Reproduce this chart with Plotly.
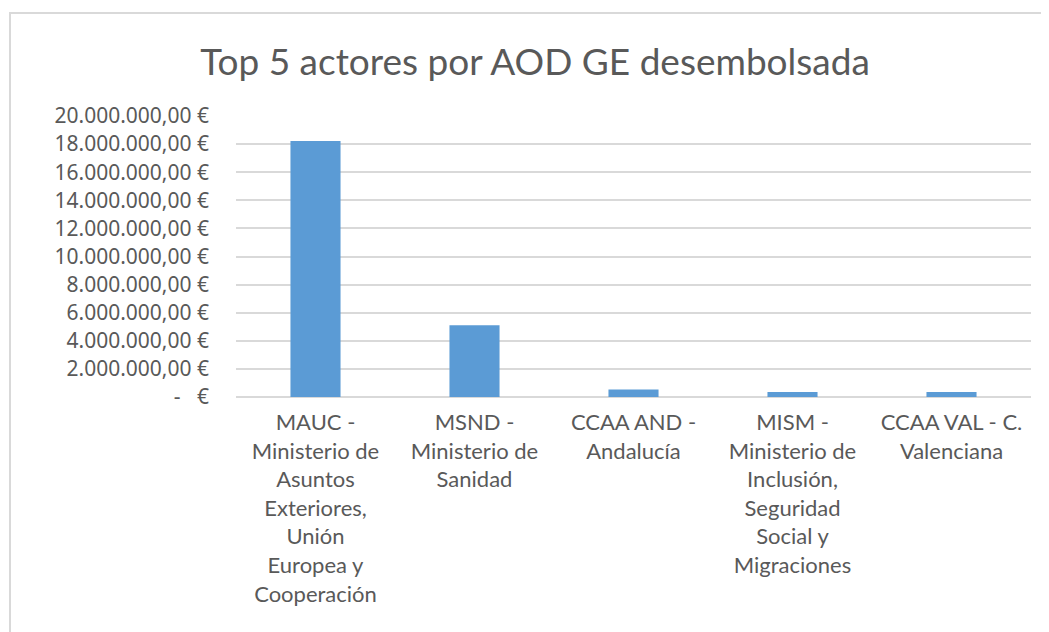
import plotly.graph_objects as go

# Top 5 actores por AOD GE desembolsada (EUR)
categorias = [
    "MAUC -<br>Ministerio de<br>Asuntos<br>Exteriores,<br>Unión<br>Europea y<br>Cooperación",
    "MSND -<br>Ministerio de<br>Sanidad",
    "CCAA AND -<br>Andalucía",
    "MISM -<br>Ministerio de<br>Inclusión,<br>Seguridad<br>Social y<br>Migraciones",
    "CCAA VAL - C.<br>Valenciana",
]
aod_desembolsada = [18220000, 5100000, 530000, 360000, 350000]
tick_vals = [0, 2e6, 4e6, 6e6, 8e6, 10e6, 12e6, 14e6, 16e6, 18e6, 20e6]


def euro(v):
    if v == 0:
        return "-   €"
    s = f"{v:,.2f}".replace(",", "X").replace(".", ",").replace("X", ".")
    return s + " €"


tick_text = [euro(v) for v in tick_vals]

fig = go.Figure(go.Bar(
    x=categorias,
    y=aod_desembolsada,
    marker=dict(color="#5B9BD5", line=dict(width=0)),
))

# page has an 8px body margin, so the figure is shifted by that amount
W, H = 1049, 632
L, T = 228, 108
pw, ph = 795, 281
R, B = W - L - pw, H - T - ph

fig.update_layout(
    width=W, height=H,
    margin=dict(l=L, r=R, t=T, b=B),
    paper_bgcolor="white",
    plot_bgcolor="white",
    bargap=0.685,
    showlegend=False,
    title=dict(
        text="Top 5 actores por AOD GE desembolsada",
        x=(535 - 8) / W, xanchor="center", y=1 - (62 - 8) / H, yanchor="middle",
        font=dict(family="Lato, sans-serif", size=37, color="#595959"),
    ),
    font=dict(family="Noto Sans, sans-serif", color="#595959"),
    shapes=[dict(
        type="rect", xref="paper", yref="paper",
        x0=(2 - L) / pw, x1=(W + 20 - L) / pw,
        y0=-(H + 20 - T - ph) / ph, y1=1 + (T - 5) / ph,
        line=dict(color="#d9d9d9", width=2),
    )],
)

fig.update_yaxes(
    range=[0, 20e6],
    tickvals=tick_vals,
    ticktext=tick_text,
    tickfont=dict(family="Noto Sans", size=21, color="#595959"),
    showgrid=True, gridcolor="#d9d9d9", gridwidth=1.5,
    zeroline=True, zerolinecolor="#d9d9d9", zerolinewidth=1.5,
    ticklabelstandoff=26,
    showline=False,
)
fig.update_xaxes(
    tickfont=dict(family="Lato", size=22, color="#595959"),
    tickangle=0,
    ticklabelstandoff=10,
    showline=False,
)

fig.write_html("out.html")
